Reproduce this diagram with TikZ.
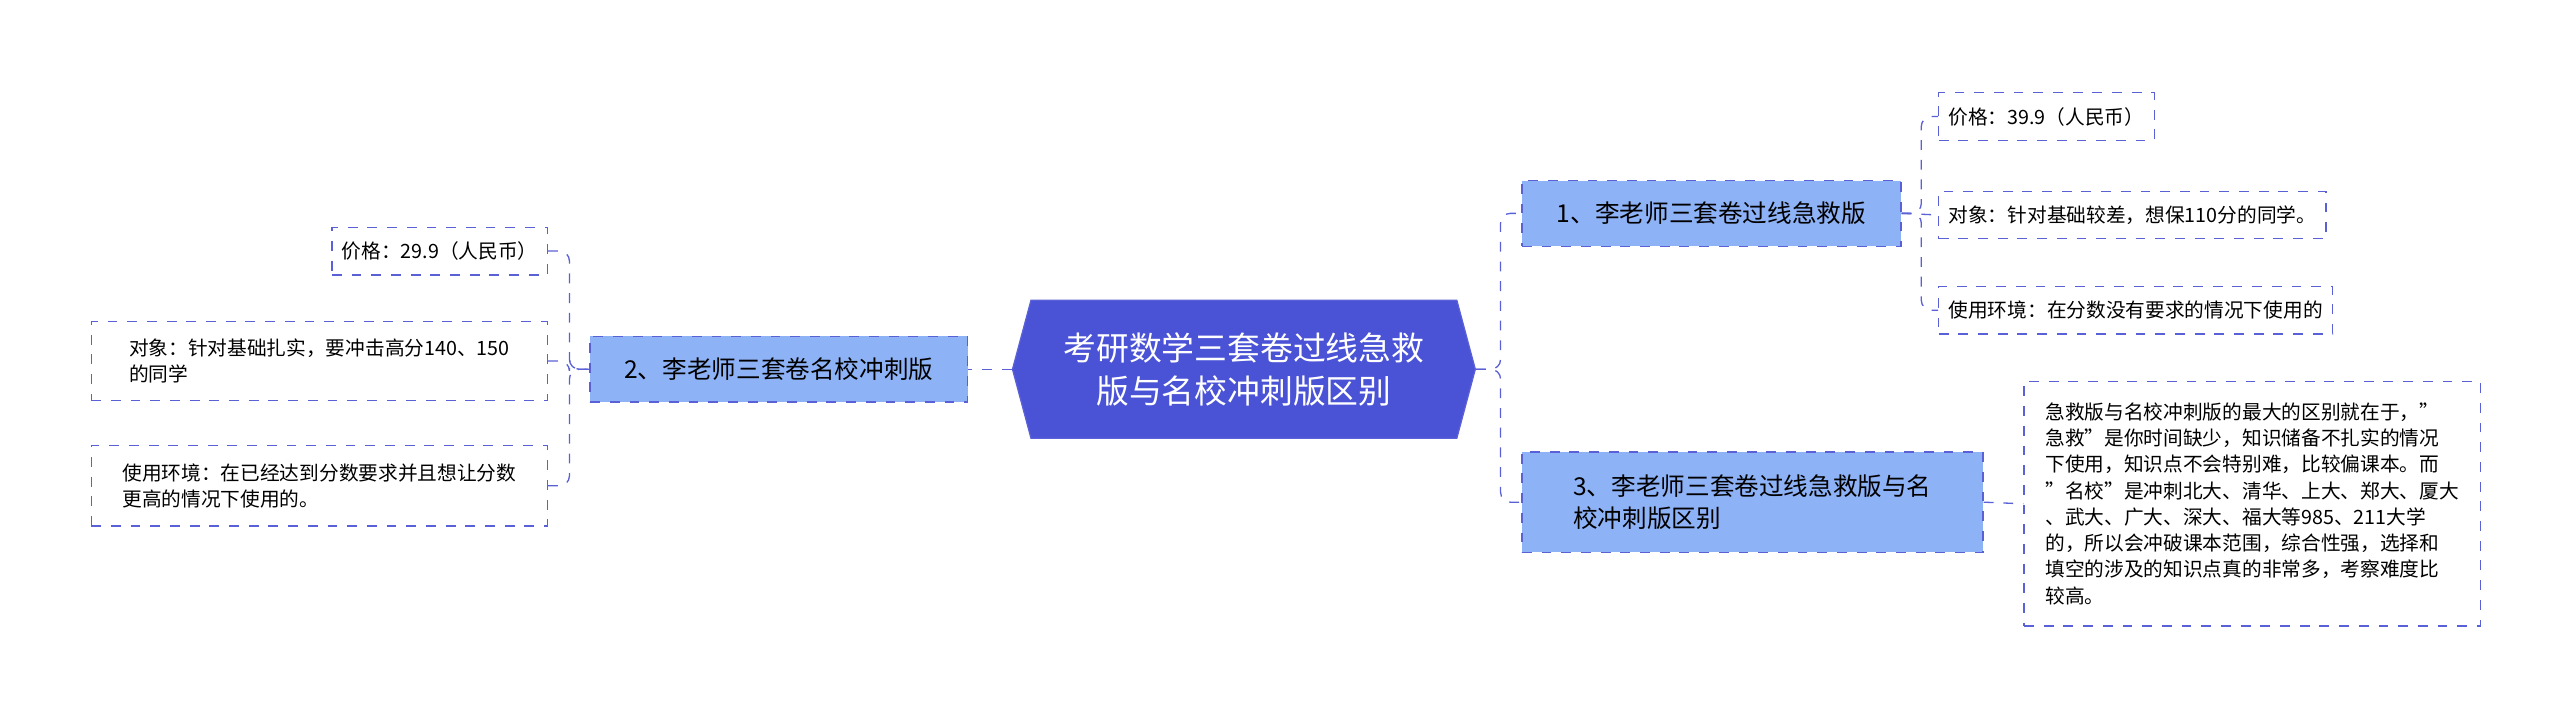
\documentclass[tikz,border=0pt]{standalone}
\usepackage{fontspec}
\setmainfont{Noto Sans CJK SC}
\usetikzlibrary{shapes.symbols}
\definecolor{lineblue}{HTML}{5A60D6}
\definecolor{rootfill}{HTML}{4A52D6}
\definecolor{branchfill}{HTML}{8EB2F6}
\tikzset{
  rootbox/.style={signal, signal to=east and west, signal pointer angle=150, fill=rootfill, draw=lineblue, text=white, font=\fontsize{10}{13}\selectfont, align=center, minimum width=141pt, minimum height=42pt, inner sep=2pt},
  branchbox/.style={rectangle, fill=branchfill, draw=lineblue, dashed, font=\fontsize{7.5}{10}\selectfont, align=left, anchor=west, inner sep=4pt},
  leafbox/.style={rectangle, fill=white, draw=lineblue, dashed, font=\fontsize{6}{8}\selectfont, align=left, anchor=west, inner sep=3pt},
  link/.style={draw=lineblue, dashed, rounded corners=3pt}
}
\begin{document}
\begin{tikzpicture}[x=0.5pt,y=-0.5pt]
\useasboundingbox (0,0) rectangle (1560,436);

%nodes
\node (root) [rootbox] at (758,225) {考研数学三套卷过线急救\\版与名校冲刺版区别};
\node (fast) [branchbox, minimum height=20pt, minimum width=115.5pt] at (927,130) {1、李老师三套卷过线急救版};
\node (diff) [branchbox, minimum height=30.5pt, minimum width=140.5pt] at (927,306) {3、李老师三套卷过线急救版与名\\校冲刺版区别};
\node (elite) [branchbox, minimum height=20pt, minimum width=115pt, anchor=east] at (590,225) {2、李老师三套卷名校冲刺版};

\node (fprice) [leafbox, minimum height=14.5pt] at (1181,71) {价格：39.9（人民币）};
\node (fwho) [leafbox, minimum height=14.5pt] at (1181,131) {对象：针对基础较差，想保110分的同学。};
\node (fuse) [leafbox, minimum height=14.5pt] at (1181,189) {使用环境：在分数没有要求的情况下使用的};
\node (dtext) [leafbox, minimum height=74.5pt, minimum width=139pt] at (1233,307) {急救版与名校冲刺版的最大的区别就在于，"\\急救"是你时间缺少，知识储备不扎实的情况\\下使用，知识点不会特别难，比较偏课本。而\\"名校"是冲刺北大、清华、上大、郑大、厦大\\、武大、广大、深大、福大等985、211大学\\的，所以会冲破课本范围，综合性强，选择和\\填空的涉及的知识点真的非常多，考察难度比\\较高。};

\node (eprice) [leafbox, minimum height=14.5pt, anchor=east] at (334,153) {价格：29.9（人民币）};
\node (ewho) [leafbox, minimum height=24pt, minimum width=139pt, anchor=east] at (334,220) {对象：针对基础扎实，要冲击高分140、150\\的同学};
\node (euse) [leafbox, minimum height=24.5pt, minimum width=139pt, anchor=east] at (334,296) {使用环境：在已经达到分数要求并且想让分数\\更高的情况下使用的。};

%connectors
\draw [link] (root.east) -- ++(15,0) |- (fast.west);
\draw [link] (root.east) -- ++(15,0) |- (diff.west);
\draw [link] (root.west) -- (elite.east);
\draw [link] (fast.east) -- ++(12,0) |- (fprice.west);
\draw [link] (fast.east) -- (fwho.west);
\draw [link] (fast.east) -- ++(12,0) |- (fuse.west);
\draw [link] (diff.east) -- (dtext.west);
\draw [link] (eprice.east) -- ++(13,0) |- (elite.west);
\draw [link] (ewho.east) -- ++(13,0) |- (elite.west);
\draw [link] (euse.east) -- ++(13,0) |- (elite.west);
\end{tikzpicture}
\end{document}
